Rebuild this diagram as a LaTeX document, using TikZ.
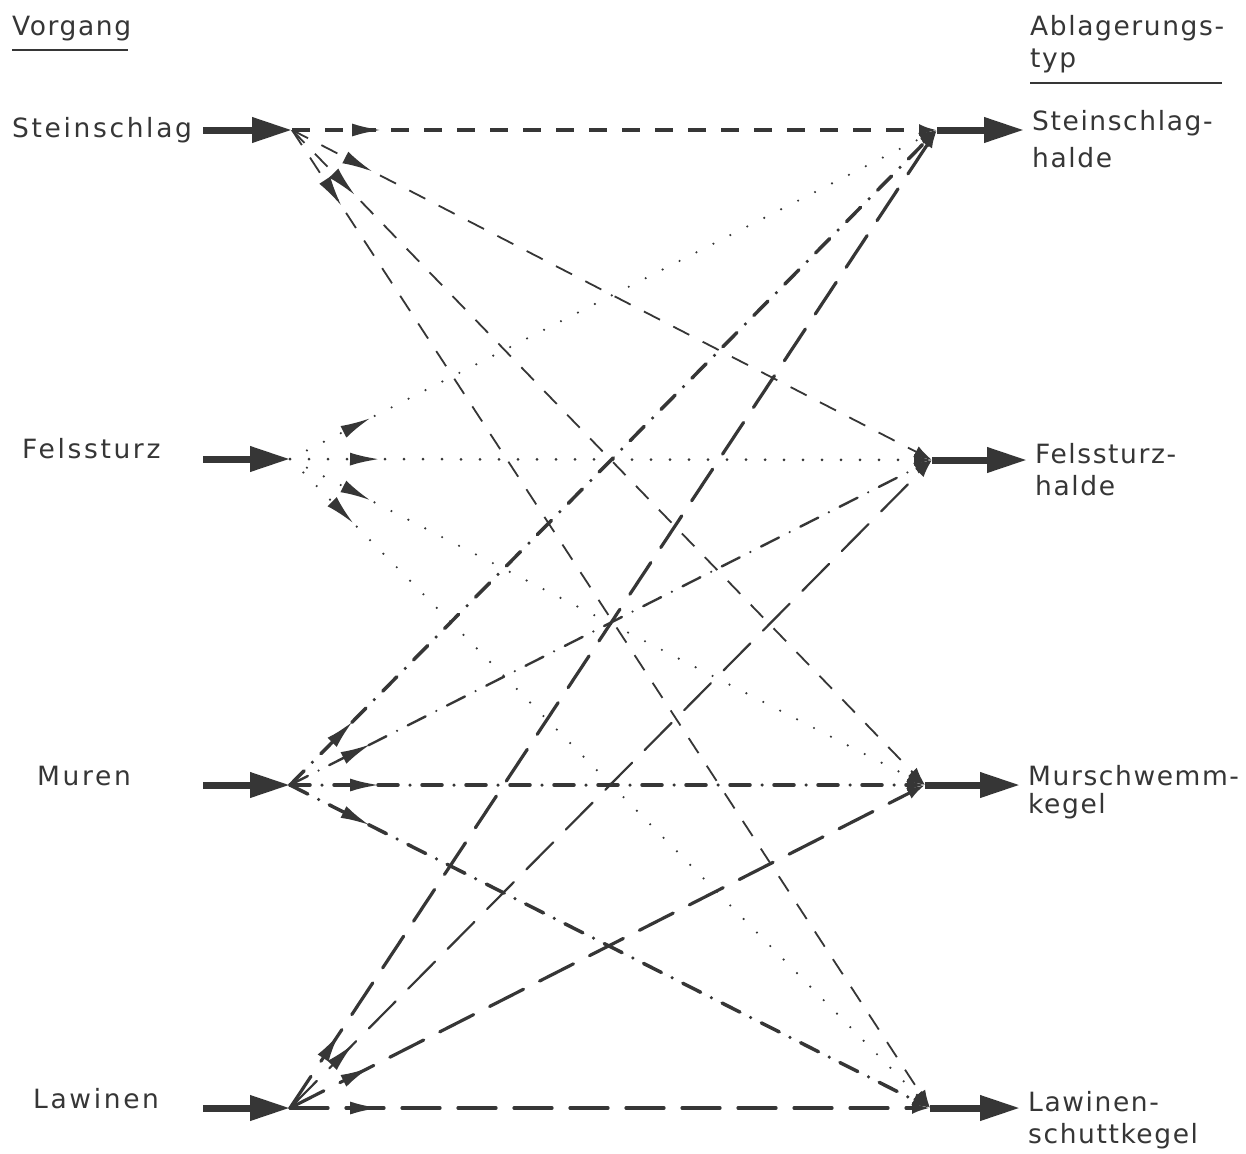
\documentclass[tikz,border=0pt]{standalone}
\usepackage{fontspec}
\setmainfont{DejaVu Sans}
\newfontfamily\lblwide[LetterSpace=10]{DejaVu Sans}
\newfontfamily\lblmed[LetterSpace=6]{DejaVu Sans}
\usetikzlibrary{arrows.meta,decorations.markings}
\definecolor{ink}{HTML}{363636}
\begin{document}
\begin{tikzpicture}[x=1pt,y=-1pt,
  lbl/.style={anchor=base west, inner sep=0pt, text=ink,
    font=\fontsize{26.5}{33}\selectfont\lblmed},
  lbll/.style={lbl, font=\fontsize{26.5}{33}\selectfont\lblwide},
  bigarrow/.style={draw=ink, fill=ink, line width=7pt,
    -{Triangle[length=40pt,width=24pt]}},
  midtip/.style={postaction={decorate,decoration={markings,
    mark=at position 90pt with {\arrow{Latex[length=30pt,width=13pt]}}}}},
  endtip/.style={-{Latex[length=18pt,width=12pt]}},
  stein/.style={draw=ink, line width=1.8pt, dash pattern=on 18pt off 15pt, midtip, endtip},
  fels/.style={draw=ink, line width=3pt, line cap=round, dash pattern=on 0pt off 19pt, midtip, endtip},
  muren/.style={draw=ink, line width=3.5pt, line cap=round,
    dash pattern=on 20pt off 12pt on 0pt off 12pt, midtip, endtip},
  lawin/.style={draw=ink, line width=3.2pt, line cap=round, dash pattern=on 38pt off 18pt, midtip, endtip},
  rule/.style={draw=ink, line width=1.6pt}
]
\useasboundingbox (0,0) rectangle (1246,1153);
\fill[white] (0,0) rectangle (1246,1153);

% hubs
\coordinate (L1) at (292,130);
\coordinate (L2) at (290,459);
\coordinate (L3) at (290,785);
\coordinate (L4) at (290,1108);
\coordinate (R1) at (937,130);
\coordinate (R2) at (932,460);
\coordinate (R3) at (925,785);
\coordinate (R4) at (930,1108);

% input / output ends
\coordinate (a1) at (203,130);
\coordinate (a2) at (203,459);
\coordinate (a3) at (203,785);
\coordinate (a4) at (203,1108);
\coordinate (b1) at (1024,130);
\coordinate (b2) at (1027,460);
\coordinate (b3) at (1020,785);
\coordinate (b4) at (1020,1108);

% headings
\node[lbl] (hv) at (12,36) {Vorgang};
\coordinate (hv1) at (12,50); \coordinate (hv2) at (128,50);
\draw[rule] (hv1) -- (hv2);
\node[lbl] (ha) at (1030,36) {Ablagerungs-};
\node[lbl] (hb) at (1030,68) {typ};
\coordinate (ha1) at (1030,83); \coordinate (ha2) at (1222,83);
\draw[rule] (ha1) -- (ha2);

% left labels
\node[lbll] (t1) at (12,137) {Steinschlag};
\node[lbll] (t2) at (22,458) {Felssturz};
\node[lbll] (t3) at (37,785) {Muren};
\node[lbll] (t4) at (33,1108) {Lawinen};

% right labels
\node[lbl] (u1) at (1032,131) {Steinschlag-};
\node[lbl] (u1b) at (1032,167) {halde};
\node[lbl] (u2) at (1035,463) {Felssturz-};
\node[lbl] (u2b) at (1035,495) {halde};
\node[lbl] (u3) at (1028,785) {Murschwemm-};
\node[lbl] (u3b) at (1028,813) {kegel};
\node[lbl] (u4) at (1028,1111) {Lawinen-};
\node[lbl] (u4b) at (1028,1143) {schuttkegel};

% connections: Steinschlag (dashed)
\draw[stein, line width=3.2pt] (L1) -- (R1);
\draw[stein] (L1) -- (R2);
\draw[stein] (L1) -- (R3);
\draw[stein] (L1) -- (R4);
% Felssturz (dotted)
\draw[fels, line width=2.4pt] (L2) -- (R1);
\draw[fels] (L2) -- (R2);
\draw[fels, line width=2.4pt] (L2) -- (R3);
\draw[fels, line width=2.4pt] (L2) -- (R4);
% Muren (dash-dot)
\draw[muren] (L3) -- (R1);
\draw[muren, line width=2.4pt] (L3) -- (R2);
\draw[muren] (L3) -- (R3);
\draw[muren] (L3) -- (R4);
% Lawinen (long dashes)
\draw[lawin] (L4) -- (R1);
\draw[lawin, line width=2.2pt] (L4) -- (R2);
\draw[lawin] (L4) -- (R3);
\draw[lawin] (L4) -- (R4);

% thick arrows
\draw[bigarrow] (a1) -- (L1);
\draw[bigarrow] (a2) -- (L2);
\draw[bigarrow] (a3) -- (L3);
\draw[bigarrow] (a4) -- (L4);
\draw[bigarrow] (R1) -- (b1);
\draw[bigarrow] (R2) -- (b2);
\draw[bigarrow] (R3) -- (b3);
\draw[bigarrow] (R4) -- (b4);
\end{tikzpicture}
\end{document}
